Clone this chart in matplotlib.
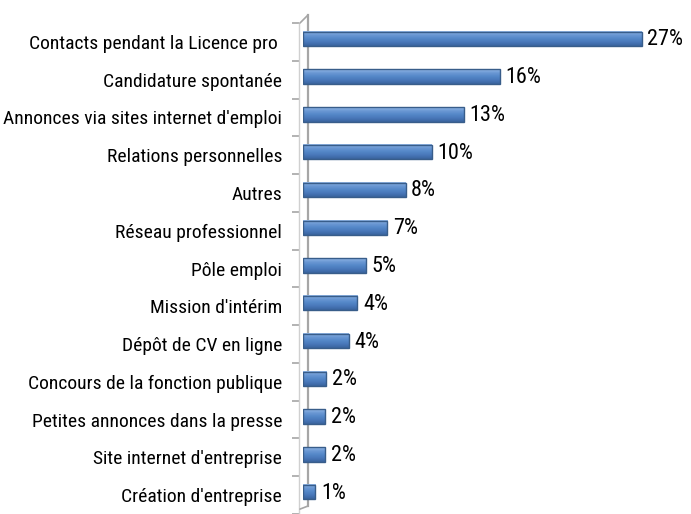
import numpy as np
import matplotlib.pyplot as plt
import matplotlib.transforms as mtransforms
from matplotlib.colors import LinearSegmentedColormap

# Categories, top to bottom
categories = [
    "Contacts pendant la Licence pro ",
    "Candidature spontanée",
    "Annonces via sites internet d'emploi",
    "Relations personnelles",
    "Autres",
    "Réseau professionnel",
    "Pôle emploi",
    "Mission d'intérim",
    "Dépôt de CV en ligne",
    "Concours de la fonction publique",
    "Petites annonces dans la presse",
    "Site internet d'entreprise",
    "Création d'entreprise",
]
values = [27.4, 15.9, 13.0, 10.4, 8.3, 6.8, 5.1, 4.4, 3.7, 1.9, 1.8, 1.8, 1.0]

plt.rcParams['font.family'] = ['Roboto Condensed', 'DejaVu Sans']

fig = plt.figure(figsize=(6.91, 5.14), dpi=100)
ax = fig.add_axes([303 / 691, 0.0, 371 / 691, 1 - 23 / 514])

y = list(range(len(categories)))
bar_h = 0.38
# bars sit a little above the category centre (3D look)
shift = mtransforms.offset_copy(ax.transData, fig=fig, x=0, y=3, units='dots')
bars = ax.barh(y, values, height=bar_h, facecolor='none', edgecolor='#385d8a',
               linewidth=1.0, transform=shift, zorder=4)

# vertical gradient inside every bar
cmap = LinearSegmentedColormap.from_list(
    'cyl', ['#93b7e5', '#6a98d4', '#5487c8', '#4877b9', '#3a649e'])
grad = np.linspace(0, 1, 32).reshape(-1, 1)
for b in bars:
    x0, y0, w, h = b.get_x(), b.get_y(), b.get_width(), b.get_height()
    ax.imshow(grad, cmap=cmap, aspect='auto', extent=(x0, x0 + w, y0 + h, y0),
              transform=shift, zorder=3, interpolation='bilinear')

pct = mtransforms.offset_copy(ax.transData, fig=fig, x=0, y=2, units='dots')
for i, v in enumerate(values):
    ax.text(v + 0.45, i, f"{v:.0f}%", va='center', ha='left', fontsize=16,
            transform=pct, color='black')

ax.set_xlim(0, 30)
ax.set_ylim(len(categories) - 0.5, -0.5)
ax.set_yticks(y)
ax.set_yticks([i + 0.5 for i in range(-1, len(categories))], minor=True)
ax.tick_params(axis='y', which='major', length=0, pad=12, labelsize=14)
ax.tick_params(axis='y', which='minor', length=5, color='#a6a6a6', width=1.2)
ax.set_yticklabels(categories)
ax.set_xticks([])

for s in ['top', 'right', 'bottom']:
    ax.spines[s].set_visible(False)
ax.spines['left'].set_color('#d0d0d0')
ax.spines['left'].set_linewidth(1.0)
ax.spines['left'].set_position(('outward', 3))

# back wall line of the 3D axis, with slanted ends
back = mtransforms.offset_copy(ax.transAxes, fig=fig, x=5, y=8, units='dots')
front = mtransforms.offset_copy(ax.transAxes, fig=fig, x=-3, y=0, units='dots')
ax.plot([0, 0], [0, 1], color='#a6a6a6', lw=1.6, transform=back,
        clip_on=False, zorder=2)
ax.plot([0, 0], [1, 1], color='#a6a6a6', lw=1.2, transform=front, clip_on=False)
ax.annotate('', xy=(0, 1), xycoords=back, xytext=(0, 1), textcoords=front,
            arrowprops=dict(arrowstyle='-', color='#a6a6a6', lw=1.2,
                            shrinkA=0, shrinkB=0))
ax.annotate('', xy=(0, 0), xycoords=back, xytext=(0, 0.01), textcoords=front,
            arrowprops=dict(arrowstyle='-', color='#a6a6a6', lw=1.2,
                            shrinkA=0, shrinkB=0))

fig.savefig("out.png", dpi=100)
